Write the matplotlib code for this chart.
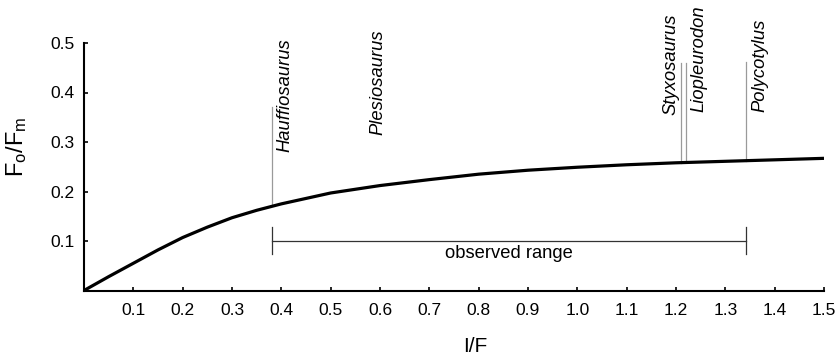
import numpy as np
import matplotlib
matplotlib.use("Agg")
import matplotlib.pyplot as plt

plt.rcParams['font.family'] = ['Liberation Sans', 'DejaVu Sans']
plt.rcParams['mathtext.default'] = 'regular'

# Curve data
ratio_x = [0.0, 0.05, 0.1, 0.15, 0.2, 0.25, 0.3, 0.35, 0.4, 0.5, 0.6, 0.7, 0.8, 0.9,
           1.0, 1.1, 1.2, 1.3, 1.4, 1.5]
ratio_y = [0.0, 0.028, 0.055, 0.082, 0.107, 0.128, 0.147, 0.162, 0.175, 0.197, 0.212,
           0.224, 0.235, 0.243, 0.249, 0.254, 0.258, 0.261, 0.264, 0.267]

# Taxa markers
taxa = ['Hauffiosaurus', 'Plesiosaurus', 'Styxosaurus', 'Liopleurodon', 'Polycotylus']
taxa_x = [0.382, None, 1.211, 1.221, 1.342]
taxa_line_top = [0.371, None, 0.460, 0.460, 0.462]

# Observed range
range_lo, range_hi = 0.382, 1.342
range_y = 0.1

xticks = [0.1, 0.2, 0.3, 0.4, 0.5, 0.6, 0.7, 0.8, 0.9, 1.0, 1.1, 1.2, 1.3, 1.4, 1.5]
yticks = [0.1, 0.2, 0.3, 0.4, 0.5]

fig = plt.figure(figsize=(8.37, 3.61), dpi=100)
ax = fig.add_axes([84/837, 70.5/361, 740/837, 247.5/361])

ax.plot(ratio_x, ratio_y, color='black', lw=2.3, solid_capstyle='butt',
        solid_joinstyle='round', zorder=3)

# label placement (text anchor positions)
label_pos = [(0.407, 0.280), (0.596, 0.314), (1.189, 0.355), (1.246, 0.361), (1.370, 0.361)]
for name, xv, top, (lx, ly) in zip(taxa, taxa_x, taxa_line_top, label_pos):
    if xv is not None:
        yb = np.interp(xv, ratio_x, ratio_y)
        ax.plot([xv, xv], [yb, top], color='#9a9a9a', lw=0.9, zorder=2)
    ax.text(lx, ly, name, rotation=90, style='italic', fontsize=13.2,
            ha='center', va='bottom')

ax.plot([range_lo, range_hi], [range_y, range_y], color='#333333', lw=0.9)
for xe in (range_lo, range_hi):
    ax.plot([xe, xe], [0.074, 0.129], color='#333333', lw=0.9)
ax.text((range_lo + range_hi) / 2, 0.0757, 'observed range', fontsize=13.2,
        ha='center', va='center')

ax.set_xlim(0, 1.5)
ax.set_ylim(0, 0.5)
ax.set_xticks(xticks)
ax.set_xticklabels([f'{v:.1f}' for v in xticks])
ax.set_yticks(yticks)
ax.set_yticklabels([f'{v:.1f}' for v in yticks])
ax.tick_params(direction='in', length=3, width=1.2, labelsize=12.5)
ax.tick_params(axis='x', pad=9)
ax.tick_params(axis='y', pad=7)
for s in ('top', 'right'):
    ax.spines[s].set_visible(False)
for s in ('left', 'bottom'):
    ax.spines[s].set_linewidth(1.5)

fig.text(17/837, 1 - 147/361, 'F$_o$/F$_m$', rotation=90, fontsize=17,
         ha='center', va='center')
fig.text(475/837, 1 - 347/361, 'I/F', fontsize=15, ha='center', va='center')

fig.savefig('out.png', dpi=100)
